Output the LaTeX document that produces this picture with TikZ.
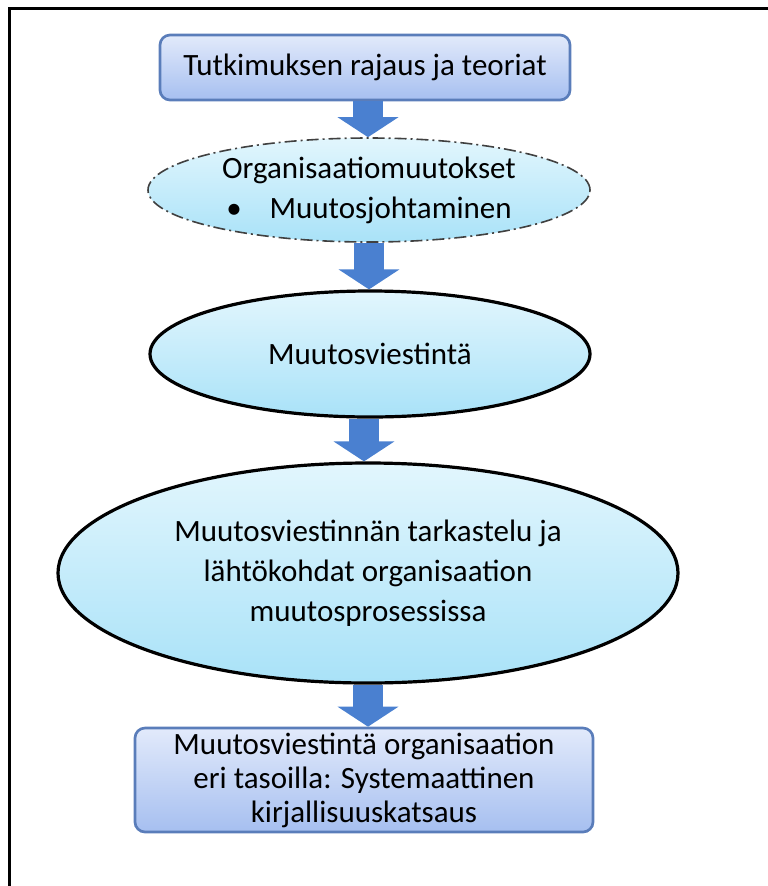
\documentclass[tikz,border=0pt]{standalone}
\usepackage{fontspec}
\setmainfont{Carlito}
\usetikzlibrary{shapes.geometric,arrows.meta,calc}
\definecolor{boxtop}{HTML}{E2EAFB}
\definecolor{boxbot}{HTML}{A6BFF0}
\definecolor{boxline}{HTML}{5A7DBA}
\definecolor{elltop}{HTML}{E2F6FD}
\definecolor{ellbot}{HTML}{A9E2F8}
\definecolor{arrowblue}{HTML}{4A80D0}
\definecolor{dashgray}{HTML}{404040}
\tikzset{
  boxnode/.style={rectangle, rounded corners=7.5pt, draw=boxline, line width=2pt,
    top color=boxtop, bottom color=boxbot, align=center, inner sep=0pt,
    font=\fontsize{23.25}{25.5}\selectfont},
  ellnode/.style={ellipse, top color=elltop, bottom color=ellbot, inner sep=0pt,
    align=center, font=\fontsize{23.25}{30}\selectfont},
  blockarrow/.style={draw=arrowblue, line width=22pt,
    -{Triangle[width=45pt,length=15pt]}, color=arrowblue},
  frameline/.style={line width=2.25pt}
}
\begin{document}
\begin{tikzpicture}[x=0.75pt,y=-0.75pt]
\useasboundingbox (0,0) rectangle (768,886);
\draw[frameline] (9,886) -- (9,8) -- (768,8);

\node[boxnode, minimum width=410*0.75pt, minimum height=65*0.75pt] (b1) at (365,67.5)
  {Tutkimuksen rajaus ja teoriat};
\node[ellnode, draw=dashgray, line width=1.2pt, dash pattern=on 9pt off 3pt on 1.5pt off 3pt,
  minimum width=442*0.75pt, minimum height=104*0.75pt] (e1) at (369,190)
  {Organisaatiomuutokset\\\textbullet\hspace{0.9em}Muutosjohtaminen};
\node[ellnode, draw=black, line width=2.4pt,
  minimum width=440*0.75pt, minimum height=126*0.75pt] (e2) at (370,354)
  {Muutosviestintä};
\node[ellnode, draw=black, line width=2.4pt,
  minimum width=620*0.75pt, minimum height=220*0.75pt] (e3) at (368,573)
  {Muutosviestinnän tarkastelu ja\\lähtökohdat organisaation\\muutosprosessissa};
\node[boxnode, minimum width=458*0.75pt, minimum height=104*0.75pt] (b5) at (364,780)
  {Muutosviestintä organisaation\\eri tasoilla: Systemaattinen\\kirjallisuuskatsaus};

\draw[blockarrow] ($(b1.south)+(3,0)$) -- ($(e1.north)+(-1,0)$);
\draw[blockarrow] (e1.south) -- (e1.south |- e2.north);
\draw[blockarrow] ($(e2.south)+(-6,0)$) -- ($(e3.north)+(-4,0)$);
\draw[blockarrow] (e3.south) -- (e3.south |- b5.north);
\end{tikzpicture}
\end{document}
